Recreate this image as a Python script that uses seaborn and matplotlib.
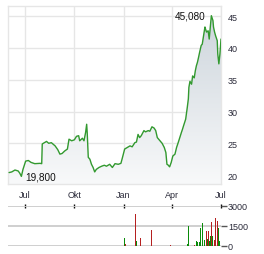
import numpy as np
import pandas as pd
import matplotlib
matplotlib.use("Agg")
import matplotlib.pyplot as plt
import matplotlib.dates as mdates
from matplotlib.colors import LinearSegmentedColormap
import seaborn as sns

# price line
price_dates = [
    "2023-06-01", "2023-06-06", "2023-06-12", "2023-06-18", "2023-06-21", "2023-06-24",
    "2023-06-27", "2023-07-02", "2023-07-07", "2023-07-12", "2023-07-19", "2023-07-29",
    "2023-08-01", "2023-08-02", "2023-08-06", "2023-08-10", "2023-08-14", "2023-08-19",
    "2023-08-26", "2023-08-31", "2023-09-04", "2023-09-08", "2023-09-13", "2023-09-18",
    "2023-09-21", "2023-09-26", "2023-10-01", "2023-10-05", "2023-10-09", "2023-10-11",
    "2023-10-16", "2023-10-19", "2023-10-22", "2023-10-24", "2023-10-25", "2023-10-27",
    "2023-10-30", "2023-11-02", "2023-11-05", "2023-11-08", "2023-11-11", "2023-11-16",
    "2023-11-21", "2023-11-26", "2023-11-30", "2023-12-06", "2023-12-11", "2023-12-16",
    "2023-12-22", "2023-12-27", "2023-12-30", "2024-01-03", "2024-01-08", "2024-01-13",
    "2024-01-17", "2024-01-22", "2024-01-25", "2024-01-28", "2024-01-31", "2024-02-03",
    "2024-02-08", "2024-02-11", "2024-02-16", "2024-02-19", "2024-02-23", "2024-02-27",
    "2024-03-01", "2024-03-04", "2024-03-09", "2024-03-13", "2024-03-17", "2024-03-20",
    "2024-03-22", "2024-03-24", "2024-03-27", "2024-03-30", "2024-04-02", "2024-04-06",
    "2024-04-09", "2024-04-12", "2024-04-15", "2024-04-18", "2024-04-20", "2024-04-22",
    "2024-04-26", "2024-04-29", "2024-05-01", "2024-05-02", "2024-05-04", "2024-05-07",
    "2024-05-09", "2024-05-12", "2024-05-14", "2024-05-16", "2024-05-18", "2024-05-20",
    "2024-05-22", "2024-05-25", "2024-05-27", "2024-05-29", "2024-06-01", "2024-06-02",
    "2024-06-04", "2024-06-07", "2024-06-09", "2024-06-11", "2024-06-13", "2024-06-16",
    "2024-06-17", "2024-06-19", "2024-06-21", "2024-06-24", "2024-06-25", "2024-06-27",
    "2024-06-29", "2024-07-01",
]
price_values = [
    20.4, 20.5, 20.8, 20.65, 20.3, 19.8,
    20.9, 22.2, 22.3, 22.0, 21.8, 21.85,
    21.8, 24.9, 25.1, 25.3, 25.0, 25.1,
    24.6, 24.0, 23.3, 23.4, 23.8, 24.1,
    25.65, 25.4, 25.55, 26.1, 26.2, 25.4,
    25.8, 25.4, 26.7, 28.0, 26.7, 22.8,
    22.5, 21.7, 21.2, 20.5, 20.9, 21.2,
    21.4, 21.55, 21.4, 21.7, 21.2, 21.8,
    21.7, 21.85, 22.8, 24.1, 24.35, 24.6,
    24.45, 25.1, 25.2, 26.4, 25.9, 26.2,
    27.0, 26.8, 27.0, 26.9, 27.6, 27.4,
    27.0, 25.9, 25.4, 25.0, 24.35, 23.55,
    21.7, 21.6, 21.3, 22.0, 23.0, 23.3,
    24.35, 25.1, 25.9, 26.7, 27.2, 27.75,
    28.8, 30.65, 32.0, 33.8, 34.75, 34.3,
    35.6, 35.3, 36.4, 37.2, 37.75, 38.5,
    39.3, 40.4, 40.6, 41.7, 43.3, 43.0,
    42.5, 42.7, 41.4, 43.3, 45.08, 44.3,
    43.3, 42.5, 41.9, 41.15, 39.05, 37.5,
    39.05, 41.4,
]

# volume bars
vol_dates = [
    "2024-01-03", "2024-01-05", "2024-01-24", "2024-01-26", "2024-02-02", "2024-02-23",
    "2024-03-29", "2024-04-29", "2024-05-02", "2024-05-12", "2024-05-17", "2024-05-19",
    "2024-05-21", "2024-05-23", "2024-05-27", "2024-05-31", "2024-06-01", "2024-06-03",
    "2024-06-05", "2024-06-07", "2024-06-09", "2024-06-12", "2024-06-14", "2024-06-16",
    "2024-06-18", "2024-06-20", "2024-06-24", "2024-06-27", "2024-06-29",
]
vol_values = [
    620, 170, 2370, 350, 620, 1220,
    100, 170, 1470, 100, 400, 270,
    320, 1350, 1750, 250, 420, 1150,
    550, 1150, 350, 750, 1800, 770,
    470, 2100, 1850, 1350, 350,
]
vol_up = [
    1, 0, 0, 1, 0, 0,
    0, 1, 1, 0, 1, 1,
    1, 1, 1, 0, 1, 0,
    1, 0, 1, 1, 0, 1,
    0, 0, 0, 1, 1,
]

tick_dates = ["2023-07-01", "2023-10-01", "2024-01-01", "2024-04-01", "2024-07-01"]
tick_labels = ["Jul", "Okt", "Jan", "Apr", "Jul"]
price_ticks = [20, 25, 30, 35, 40, 45]
vol_ticks = [0, 1500, 3000]

df = pd.DataFrame({"date": pd.to_datetime(price_dates), "price": price_values})
vol = pd.DataFrame({"date": pd.to_datetime(vol_dates), "volume": vol_values, "up": vol_up})

sns.set_style("white")
plt.rcParams["font.family"] = ["Liberation Sans", "DejaVu Sans"]

txt = "#2b2b3a"
grid_c = "#e6e6e6"
fig = plt.figure(figsize=(2.64, 2.55), dpi=100)
ax = fig.add_axes([0.0303, 0.2745, 0.8068, 0.698])
ax2 = fig.add_axes([0.0303, 0.0314, 0.8068, 0.1569])

x0 = mdates.date2num(pd.Timestamp("2023-05-30"))
x1 = mdates.date2num(pd.Timestamp("2024-07-01"))
y0, y1 = 18.6, 46.6

sns.lineplot(data=df, x="date", y="price", ax=ax, color="#32992f", linewidth=1.0, zorder=3)

# gradient fill under the line
poly = ax.fill_between(df["date"], df["price"], y0, color="none", linewidth=0)
cmap = LinearSegmentedColormap.from_list("g", ["#f8f9fa", "#cdd5dc"])
grad = np.linspace(1, 0, 256).reshape(-1, 1)
im = ax.imshow(grad, extent=[x0, x1, y0, 45.5], aspect="auto", cmap=cmap, zorder=2)
im.set_clip_path(poly.get_paths()[0], transform=ax.transData)

ax.set_xlim(x0, x1)
ax.set_ylim(y0, y1)
ax.set_xticks(mdates.date2num(pd.to_datetime(tick_dates)))
ax.set_xticklabels(tick_labels)
ax.set_yticks(price_ticks)
ax.yaxis.tick_right()
ax.tick_params(axis="both", length=0, labelsize=6.5, colors=txt)
ax.tick_params(axis="y", pad=5)
ax.tick_params(axis="x", pad=4)
ax.grid(True, color=grid_c, linewidth=1.0)
ax.set_axisbelow(True)
for s in ax.spines.values():
    s.set_color(grid_c)
    s.set_linewidth(1.0)
ax.set_xlabel("")
ax.set_ylabel("")

# max / min labels
imax = int(np.argmax(price_values))
imin = int(np.argmin(price_values))
ax.annotate(f"{price_values[imax]:.3f}".replace(".", ","), (df["date"][imax], price_values[imax]),
            xytext=(-4, 0), textcoords="offset points", ha="right", va="center",
            fontsize=7.2, color="#111111", zorder=5)
ax.annotate(f"{price_values[imin]:.3f}".replace(".", ","), (df["date"][imin], price_values[imin]),
            xytext=(2.5, 0), textcoords="offset points", ha="left", va="center",
            fontsize=7.2, color="#111111", zorder=5)

# volume panel
colors = ["#0a8a0a" if u else "#b52020" for u in vol["up"]]
for t in vol_ticks:
    ax2.axhline(t, color="#cccccc", linewidth=1.3, zorder=1)
ax2.bar(mdates.date2num(vol["date"]), vol["volume"], width=1.87, color=colors,
        linewidth=0, edgecolor="none", zorder=3)
ax2.set_xlim(x0, x1)
ax2.set_ylim(0, 3000)
ax2.set_yticks(vol_ticks)
ax2.yaxis.tick_right()
ax2.set_xticks(mdates.date2num(pd.to_datetime(tick_dates)))
ax2.xaxis.tick_top()
ax2.tick_params(axis="x", direction="inout", length=3.5, width=1, color="#111111", labeltop=False)
ax2.tick_params(axis="y", direction="out", length=4, width=1, color="#555555",
                labelsize=6.5, labelcolor=txt, pad=1)
ax2.grid(False)
for s in ax2.spines.values():
    s.set_visible(False)

fig.savefig("out.png", dpi=100)
